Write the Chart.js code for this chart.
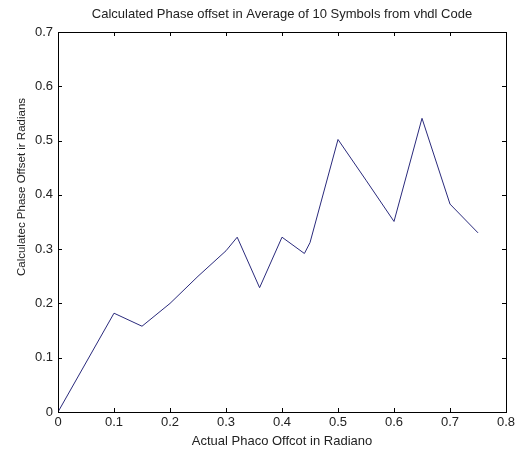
<!DOCTYPE html>
<html>
<head>
<meta charset="utf-8">
<script src="https://cdn.jsdelivr.net/npm/chart.js@4/dist/chart.umd.min.js"></script>
<style>
  html, body { margin: 0; padding: 0; background: #fff; }
  #wrap { width: 525px; height: 452px; }
</style>
</head>
<body>
<div id="wrap"><canvas id="graficoFase" width="525" height="452"></canvas></div>
<script>
// offset real (rad) x offset calculado (rad), media de 10 simbolos
const faseReal = [0, 0.1, 0.15, 0.2, 0.25, 0.3, 0.32, 0.36, 0.4, 0.44, 0.45, 0.5, 0.55, 0.6, 0.65, 0.7, 0.75];
const faseCalculada = [0, 0.182, 0.158, 0.2, 0.25, 0.297, 0.322, 0.229, 0.322, 0.292, 0.312, 0.502, 0.427, 0.351, 0.541, 0.383, 0.33];

const tituloGrafico = 'Calculated Phase offset in Average of 10 Symbols from vhdl Code';
const tituloX = 'Actual Phaco Offcot in Radiano';
const tituloY = 'Calculatec Phase Offset ir Radians';

const familia = 'Liberation Sans, Arial, sans-serif';
const fonte = { family: familia, size: 13 };
const corTexto = '#222';

// caixa em volta da area do grafico + ticks para dentro (estilo matlab) + titulo do eixo y
const caixaPlugin = {
    id: 'caixa',
    afterDraw(chart) {
        const { ctx, chartArea: a, scales } = chart;
        const tam = 4;
        ctx.save();
        ctx.strokeStyle = '#000';
        ctx.lineWidth = 1;
        ctx.strokeRect(a.left + 0.5, a.top + 0.5, a.right - a.left, a.bottom - a.top);
        ctx.beginPath();
        scales.x.ticks.forEach(t => {
            const px = Math.round(scales.x.getPixelForValue(t.value)) + 0.5;
            ctx.moveTo(px, a.bottom); ctx.lineTo(px, a.bottom - tam);
            ctx.moveTo(px, a.top); ctx.lineTo(px, a.top + tam);
        });
        scales.y.ticks.forEach(t => {
            const py = Math.round(scales.y.getPixelForValue(t.value)) + 0.5;
            ctx.moveTo(a.left, py); ctx.lineTo(a.left + tam, py);
            ctx.moveTo(a.right, py); ctx.lineTo(a.right - tam, py);
        });
        ctx.stroke();

        // titulo do eixo y, um pouco acima do centro
        ctx.translate(22, 187);
        ctx.rotate(-Math.PI / 2);
        ctx.fillStyle = corTexto;
        ctx.font = '11.5px ' + familia;
        ctx.textAlign = 'center';
        ctx.textBaseline = 'middle';
        ctx.fillText(tituloY, 0, 0);
        ctx.restore();
    }
};

const ctx = document.getElementById('graficoFase').getContext('2d');
new Chart(ctx, {
    type: 'line',
    data: {
        datasets: [{
            label: 'Offset calculado',
            data: faseReal.map((x, i) => ({ x: x, y: faseCalculada[i] })),
            borderColor: '#2a2a7c',
            borderWidth: 1,
            pointRadius: 0,
            fill: false,
            tension: 0
        }]
    },
    options: {
        responsive: false,
        animation: false,
        layout: { padding: { left: 0, right: 19, top: 0, bottom: 0 } },
        plugins: {
            legend: { display: false },
            tooltip: { enabled: false },
            title: {
                display: true,
                fullSize: false, // centraliza sobre a area do grafico
                text: tituloGrafico,
                color: corTexto,
                font: { family: familia, size: 13, weight: 'normal' },
                padding: { top: 7, bottom: 9.4 }
            }
        },
        scales: {
            x: {
                type: 'linear',
                min: 0,
                max: 0.8,
                ticks: { stepSize: 0.1, color: corTexto, font: fonte, padding: 3, maxRotation: 0 },
                grid: { display: false, drawTicks: false },
                border: { display: false },
                title: { display: true, text: tituloX, color: corTexto, font: fonte, padding: { top: 0, bottom: 3 } },
                afterFit(scale) { scale.height = 40; }
            },
            y: {
                min: 0,
                max: 0.7,
                ticks: { stepSize: 0.1, color: corTexto, font: fonte, padding: 5 },
                grid: { display: false, drawTicks: false },
                border: { display: false },
                title: { display: false },
                afterFit(scale) { scale.width = 58; }
            }
        }
    },
    plugins: [caixaPlugin]
});
</script>
</body>
</html>
